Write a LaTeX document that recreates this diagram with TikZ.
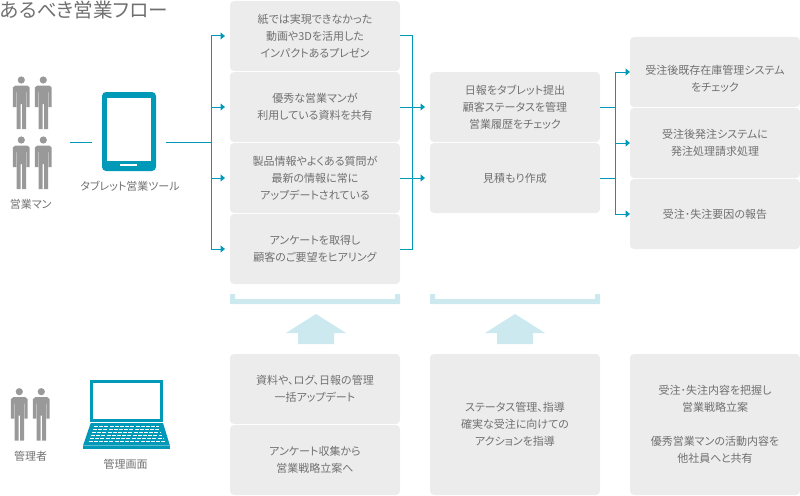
\documentclass[tikz,border=0pt]{standalone}
\usepackage{fontspec}
\setmainfont{Noto Sans CJK JP}[RawFeature=+palt]
\usepackage{xcolor}
\definecolor{flowteal}{RGB}{0,153,184}
\definecolor{boxgray}{RGB}{236,236,236}
\definecolor{paleteal}{RGB}{203,233,239}
\definecolor{figgray}{RGB}{153,153,153}
\definecolor{textgray}{RGB}{112,112,112}
\usetikzlibrary{arrows.meta, positioning}

\begin{document}
\begin{tikzpicture}[
    x=1pt, y=-1pt,
    >={Triangle[length=4.5pt,width=7pt]},
    node distance=1pt,
    font=\fontsize{11}{17}\selectfont,
    text=textgray,
    flowbox/.style={fill=boxgray, rounded corners=4pt, minimum width=170pt, minimum height=70pt, inner sep=0pt, outer sep=0pt, align=center},
    tallbox/.style={flowbox, minimum height=141pt},
    caption/.style={inner sep=0pt},
    flowline/.style={draw=flowteal, line width=1pt},
    flowarrow/.style={flowline, ->, shorten >=5pt},
    person/.pic={
      \fill[figgray] (0,0) circle (3.6);
      \fill[figgray] (-6,5.5) -- (6,5.5) -- (8.4,7.5) -- (8.4,27) -- (5.2,27) -- (5.2,12) -- (4.7,12) -- (4.7,49)
        -- (0.8,49) -- (0.8,24) -- (-0.8,24) -- (-0.8,49) -- (-4.7,49) -- (-4.7,12) -- (-5.2,12) -- (-5.2,27)
        -- (-8.4,27) -- (-8.4,7.5) -- cycle;
    },
    uparrow/.pic={
      \fill[paleteal] (0,0) -- (30,19) -- (18,19) -- (18,30) -- (-18,30) -- (-18,19) -- (-30,19) -- cycle;
    },
    bracket/.pic={
      \fill[paleteal] (0,0) -- (5,0) -- (5,5) -- (165,5) -- (165,0) -- (170,0) -- (170,10) -- (0,10) -- cycle;
    }
  ]

  \useasboundingbox (0,0) rectangle (800,495);

  \node (title) [anchor=west, inner sep=0pt, font=\fontsize{19.6}{20}\selectfont] at (0,10.5) {あるべき営業フロー};

  % sales side
  \foreach \px in {21.3,43.3}
    \foreach \py in {80,140}
      \pic at (\px,\py) {person};
  \node (staff) [caption] at (30.7,204) {営業マン};

  \node (tablet) [fill=flowteal, rounded corners=4pt, minimum width=54pt, minimum height=79pt, inner sep=0pt] at (129,131.5) {};
  \node (screen) [fill=white, minimum width=44pt, minimum height=62.7pt, inner sep=0pt] at (129,129.4) {};
  \node (homekey) [fill=white, minimum width=17pt, minimum height=2pt, inner sep=0pt] at (128.5,164.7) {};
  \node (tabletname) [caption] at (130,186.7) {タブレット営業ツール};

  \coordinate (staffout) at (70,142);
  \coordinate (tabletin) at (92,142);
  \coordinate (tabletout) at (166,142);
  \coordinate (busA) at (211,142);
  \coordinate (busB) at (412.5,142);
  \coordinate (busC) at (615.5,142);

  % first column
  \node (movie) [flowbox] at (315,36) {紙では実現できなかった\\動画や3Dを活用した\\インパクトあるプレゼン};
  \node (share) [flowbox, below=of movie] {優秀な営業マンが\\利用している資料を共有};
  \node (info) [flowbox, below=of share] {製品情報やよくある質問が\\最新の情報に常に\\アップデートされている};
  \node (survey) [flowbox, below=of info] {アンケートを取得し\\顧客のご要望をヒアリング};

  % second column
  \node (report) [flowbox] at (515,107) {日報をタブレット提出\\顧客ステータスを管理\\営業履歴をチェック};
  \node (quote) [flowbox, below=of report] {見積もり作成};

  % third column
  \node (stock) [flowbox] at (715,72) {\rule{0pt}{23pt}受注後既存在庫管理システム\\をチェック};
  \node (order) [flowbox, below=of stock] {受注後発注システムに\\発注処理請求処理};
  \node (cause) [flowbox, below=of order] {受注･失注要因の報告};

  \draw[flowline] (staffout) -- (tabletin);
  \draw[flowline] (tabletout) -- (busA);
  \draw[flowarrow] (busA) |- (movie.west);
  \draw[flowarrow] (busA) |- (share.west);
  \draw[flowarrow] (busA) |- (info.west);
  \draw[flowarrow] (busA) |- (survey.west);

  \draw[flowline] (movie.east) -| (busB) |- (survey.east);
  \draw[flowarrow] (share.east) -- (report.west);
  \draw[flowarrow] (info.east) -- (quote.west);

  \draw[flowline] (report.east) -- (report.east -| busC);
  \draw[flowline] (quote.east) -- (quote.east -| busC);
  \draw[flowarrow, shorten >=0pt] (busC) |- (stock.west);
  \draw[flowarrow, shorten >=0pt] (busC) |- (order.west);
  \draw[flowarrow, shorten >=0pt] (busC) |- (cause.west);

  % brackets and arrows
  \pic at (230,294) {bracket};
  \pic at (430,294) {bracket};
  \pic at (316,314) {uparrow};
  \pic at (515,314) {uparrow};

  % manager side
  \pic at (19.3,391.7) {person};
  \pic at (41.3,391.7) {person};
  \node (manager) [caption] at (30.7,456) {管理者};

  \node (lid) [fill=flowteal, minimum width=73pt, minimum height=42pt, inner sep=0pt] at (126.5,401) {};
  \node (display) [fill=white, minimum width=67pt, minimum height=36pt, inner sep=0pt] at (126.5,401) {};
  \fill[flowteal] (90.7,423) -- (163,423) -- (170,445.7) -- (83,445.7) -- cycle;
  \fill[flowteal] (83,446.4) rectangle (170,449);
  \foreach \ky/\kx in {426.3/94, 429.3/93, 432.3/92, 435.3/91, 438.3/90, 441.3/88.5}
    \draw[white, line width=0.7pt, dash pattern=on 4pt off 1.2pt] (\kx,\ky) -- (253-\kx,\ky);
  \node (adminview) [caption] at (125.7,464) {管理画面};

  % bottom row
  \node (upload) [flowbox] at (315,389) {資料や、ログ、日報の管理\\一括アップデート};
  \node (plan) [flowbox, below=of upload] {アンケート収集から\\営業戦略立案へ};
  \node (guide) [tallbox] at (515,424.5) {ステータス管理、指導\\確実な受注に向けての\\アクションを指導};
  \node (grasp) [tallbox] at (715,424.5) {受注･失注内容を把握し\\営業戦略立案\\[17pt]優秀営業マンの活動内容を\\他社員へと共有};

\end{tikzpicture}
\end{document}
